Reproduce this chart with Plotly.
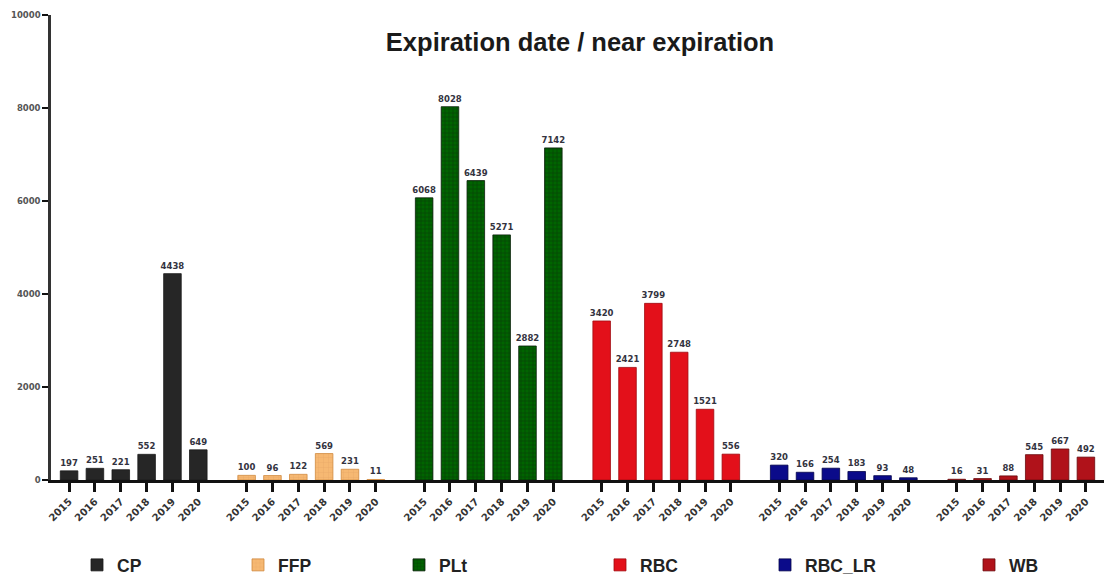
import plotly.graph_objects as go

years = ["2015", "2016", "2017", "2018", "2019", "2020"]
products = ["CP", "FFP", "PLt", "RBC", "RBC_LR", "WB"]

cp = [197, 251, 221, 552, 4438, 649]
ffp = [100, 96, 122, 569, 231, 11]
plt_vals = [6068, 8028, 6439, 5271, 2882, 7142]
rbc = [3420, 2421, 3799, 2748, 1521, 556]
rbc_lr = [320, 166, 254, 183, 93, 48]
wb = [16, 31, 88, 545, 667, 492]

series = [cp, ffp, plt_vals, rbc, rbc_lr, wb]
colors = ["#262626", "#f6b872", "#006400", "#e3101a", "#0b0b8a", "#b0121a"]
edges = ["#1a1a1a", "#d08a40", "#0a200a", "#a00a10", "#05054a", "#6a0a0e"]
patterns = [None,
            dict(shape="+", fgcolor="#d8965a", bgcolor="#f6b872", size=5, solidity=0.15),
            dict(shape="+", fgcolor="#0a1a0a", bgcolor="#006400", size=4, solidity=0.3),
            None, None, None]

GROUP = 6.87  # distance between group starts, in bar slots
FONT = "Liberation Sans, Arial, sans-serif"
SMALL = "DejaVu Sans, sans-serif"

# legend swatch centres in pixels (from reference)
legend_px = [98, 259, 420, 621, 786, 990]
L, R, T, B = 51, 0, 15, 99
W, H = 1104, 579

fig = go.Figure()
tickvals, ticktext = [], []
for g, (name, vals) in enumerate(zip(products, series)):
    xs = [g * GROUP + i for i in range(len(years))]
    tickvals += xs
    ticktext += years
    marker = dict(color=colors[g], line=dict(color=edges[g], width=0.8))
    if patterns[g]:
        marker["pattern"] = patterns[g]
    leg = "legend" if g == 0 else "legend%d" % (g + 1)
    fig.add_trace(go.Bar(
        x=xs, y=vals, name=name, width=0.68, marker=marker,
        text=[str(v) for v in vals], textposition="outside", constraintext="none",
        textfont=dict(size=8.5, color="#333340", family=SMALL, weight="bold"),
        cliponaxis=False, legend=leg,
    ))

layout_legends = {}
for g in range(len(products)):
    key = "legend" if g == 0 else "legend%d" % (g + 1)
    layout_legends[key] = dict(
        x=(legend_px[g] - 21) / W, xref="container", xanchor="left",
        y=1 - 565 / H, yref="container", yanchor="middle",
        orientation="h", bgcolor="rgba(0,0,0,0)",
        font=dict(size=17.5, family=FONT, color="#222", weight="bold"),
    )

fig.update_layout(
    width=W, height=H,
    margin=dict(l=L, r=R, t=T, b=B, autoexpand=False),
    plot_bgcolor="white", paper_bgcolor="white",
    barmode="overlay",
    showlegend=True,
    title=dict(text="Expiration date / near expiration",
               x=580 / W, xref="container", xanchor="center",
               y=1 - 42 / H, yref="container", yanchor="middle",
               font=dict(size=25.5, family=FONT, color="#1a1a1a", weight="bold")),
    xaxis=dict(range=[-0.7, 5 * GROUP + 5.7], tickvals=tickvals, ticktext=ticktext,
               tickangle=-45, showgrid=False, zeroline=False, automargin=False,
               showline=True, linecolor="#111", linewidth=2.5,
               ticks="outside", ticklen=9, tickwidth=2.5, tickcolor="#111",
               tickfont=dict(size=10, family=SMALL, color="#333", weight="bold")),
    yaxis=dict(range=[0, 10000], dtick=2000, tickformat="d",
               showgrid=False, zeroline=False, automargin=False,
               showline=True, linecolor="#333", linewidth=2.5,
               ticks="outside", ticklen=6, tickwidth=2, tickcolor="#111",
               tickfont=dict(size=8.5, family=SMALL, color="#555", weight="bold")),
    **layout_legends,
)

# the page body has a default 8px margin; drop it so the figure fills the window
fig.write_html("out.html", config={"displayModeBar": False},
               post_script="document.body.style.margin='0';")
